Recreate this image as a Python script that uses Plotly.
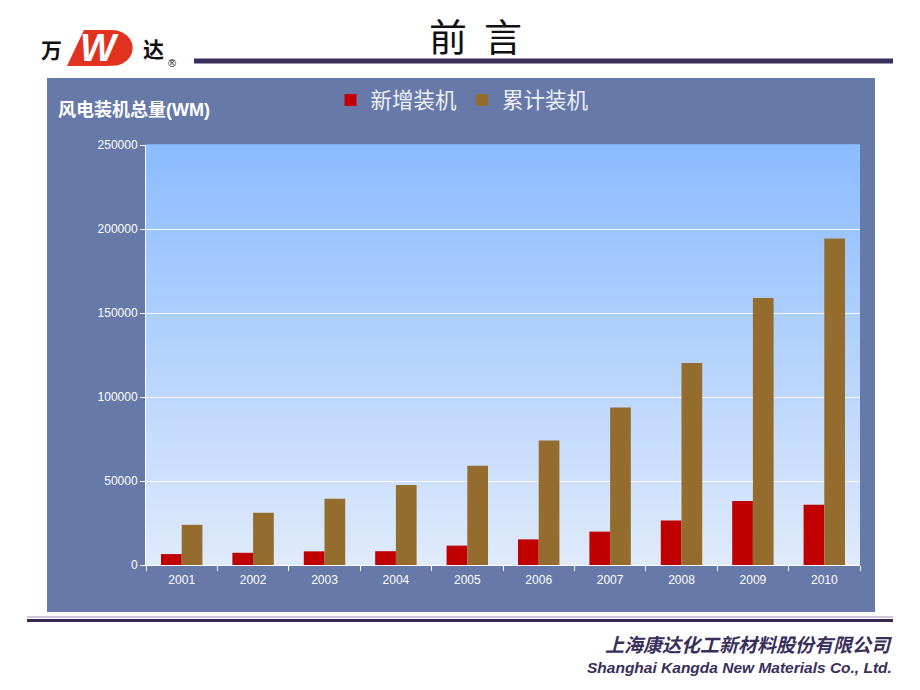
import plotly.graph_objects as go
import math

years = ["2001", "2002", "2003", "2004", "2005", "2006", "2007", "2008", "2009", "2010"]
new_install = [6500, 7270, 8130, 8210, 11530, 15250, 19870, 26560, 38100, 35800]
cumulative = [23900, 31100, 39430, 47620, 59090, 74050, 93820, 120290, 158860, 194390]
series_names = ["新增装机", "累计装机"]
y_title = "风电装机总量(WM)"
slide_title = "前  言"
company_cn = "上海康达化工新材料股份有限公司"
company_en = "Shanghai Kangda New Materials Co., Ltd."

OFF = 8  # browser body margin
W, H = 920 - 2 * OFF, 690 - 2 * OFF
L, R, T, B = 146, 860, 145, 565  # plot area in page px


def px(x):
    return (x - L) / (R - L)


def py(y):
    return (B - y) / (B - T)


fig = go.Figure()
fig.add_trace(go.Bar(x=years, y=new_install, name=series_names[0], marker_color="#C00000",
                     marker_line_width=0))
fig.add_trace(go.Bar(x=years, y=cumulative, name=series_names[1], marker_color="#936C2E",
                     marker_line_width=0))

shapes = []
# chart area background
shapes.append(dict(type="rect", xref="paper", yref="paper", x0=px(47), x1=px(875),
                   y0=py(612), y1=py(78), fillcolor="#6679A9", line_width=0, layer="below"))
# gradient plot background
top_c = (0x8B, 0xBC, 0xFF)
bot_c = (0xDF, 0xEA, 0xFB)
n = 60
for i in range(n):
    t = i / (n - 1)
    c = tuple(round(bot_c[k] + (top_c[k] - bot_c[k]) * t) for k in range(3))
    shapes.append(dict(type="rect", xref="paper", yref="paper", x0=0, x1=1,
                       y0=i / n, y1=(i + 1) / n + 0.002,
                       fillcolor="rgb(%d,%d,%d)" % c, line_width=0, layer="below"))
# header line
shapes.append(dict(type="line", xref="paper", yref="paper", x0=px(194), x1=px(893),
                   y0=py(61), y1=py(61), line=dict(color="#3A2F5C", width=5)))
# footer lines
shapes.append(dict(type="line", xref="paper", yref="paper", x0=px(27), x1=px(893),
                   y0=py(617), y1=py(617), line=dict(color="#CFC6DC", width=2)))
shapes.append(dict(type="line", xref="paper", yref="paper", x0=px(27), x1=px(893),
                   y0=py(620.5), y1=py(620.5), line=dict(color="#34294E", width=3)))

# logo red D-shape
pts = [(67, 66), (84, 30), (112, 30)]
cx, cy, rr = 112, 48, 18
for k in range(1, 12):
    a = math.pi / 2 - k * math.pi / 12
    pts.append((cx + rr * 1.15 * math.cos(a), cy - rr * math.sin(a)))
pts.append((106, 66))
path = "M " + " L ".join("%.5f,%.5f" % (px(x), py(y)) for x, y in pts) + " Z"
shapes.append(dict(type="path", xref="paper", yref="paper", path=path,
                   fillcolor="#E0321E", line_width=0))

annotations = [
    dict(text="<b>" + y_title + "</b>", xref="paper", yref="paper", x=px(56), y=py(110),
         xanchor="left", yanchor="middle", showarrow=False,
         font=dict(family="Liberation Sans, Noto Sans CJK SC", size=18, color="white")),
    dict(text=slide_title, xref="paper", yref="paper", x=px(475), y=py(34), xanchor="center",
         yanchor="middle", showarrow=False,
         font=dict(family="Noto Sans CJK SC", size=38, color="#111111")),
    dict(text="<b>万</b>", xref="paper", yref="paper", x=px(51), y=py(49), xanchor="center",
         yanchor="middle", showarrow=False,
         font=dict(family="Noto Sans CJK SC", size=21, color="#111111")),
    dict(text="<b><i>W</i></b>", xref="paper", yref="paper", x=px(99), y=py(48), xanchor="center",
         yanchor="middle", showarrow=False,
         font=dict(family="Liberation Sans", size=38, color="white")),
    dict(text="<b>达</b>", xref="paper", yref="paper", x=px(153), y=py(48), xanchor="center",
         yanchor="middle", showarrow=False,
         font=dict(family="Noto Sans CJK SC", size=21, color="#111111")),
    dict(text="®", xref="paper", yref="paper", x=px(172), y=py(63), xanchor="center",
         yanchor="middle", showarrow=False,
         font=dict(family="Liberation Sans", size=11, color="#111111")),
    dict(text="<b><i>" + company_cn + "</i></b>", xref="paper", yref="paper", x=px(894),
         y=py(643), xanchor="right", yanchor="middle", showarrow=False,
         font=dict(family="Noto Sans CJK SC", size=19, color="#3A2F5C")),
    dict(text="<b><i>" + company_en + "</i></b>", xref="paper", yref="paper", x=px(894),
         y=py(667), xanchor="right", yanchor="middle", showarrow=False,
         font=dict(family="Liberation Sans", size=15.5, color="#3A2F5C")),
]

fig.update_layout(
    width=W, height=H,
    margin=dict(l=L - OFF, r=W - (R - OFF), t=T - OFF, b=H - (B - OFF), pad=0),
    paper_bgcolor="white",
    plot_bgcolor="rgba(0,0,0,0)",
    barmode="group", bargap=0.42, bargroupgap=0,
    shapes=shapes, annotations=annotations,
    legend=dict(orientation="h", x=px(462), y=py(100), xanchor="center", yanchor="middle",
                font=dict(family="Noto Sans CJK SC", size=21.5, color="#EEF0F8"),
                bgcolor="rgba(0,0,0,0)", itemwidth=30, traceorder="normal"),
    font=dict(family="Liberation Sans", size=12, color="white"),
)
fig.update_xaxes(type="category", showline=True, linecolor="white", linewidth=1,
                 ticks="outside", tickson="boundaries", ticklen=5, tickcolor="white",
                 showgrid=False, tickfont=dict(size=12, color="white"),
                 ticklabelstandoff=4)
fig.update_yaxes(range=[0, 250000], dtick=50000, tickformat="d", showline=True,
                 linecolor="white", linewidth=1, ticks="outside", ticklen=5,
                 tickcolor="white", gridcolor="white", gridwidth=1, zeroline=False,
                 tickfont=dict(size=12, color="white"))

fig.write_html("out.html")
